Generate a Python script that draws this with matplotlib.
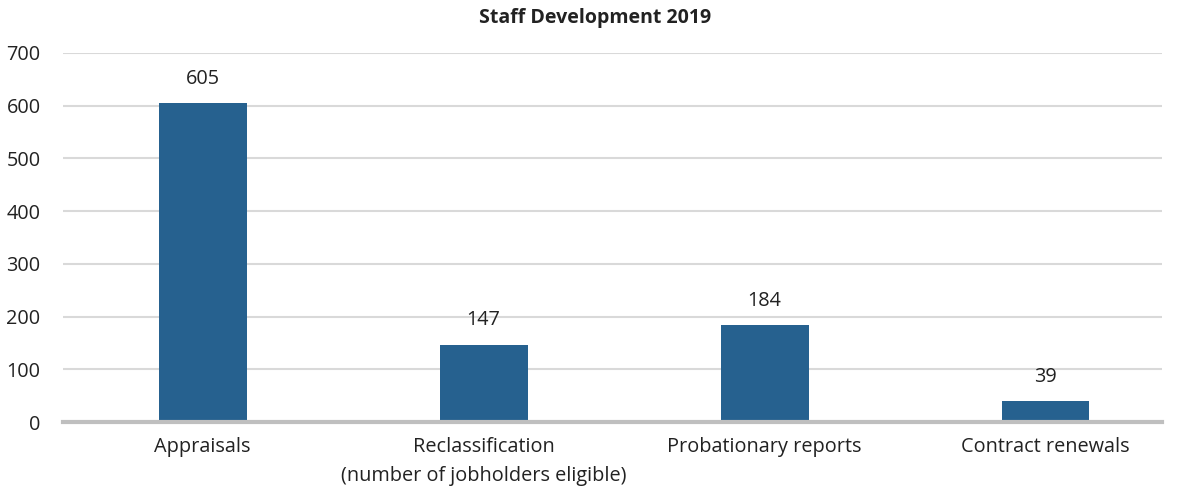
import matplotlib.pyplot as plt

categories = ['Appraisals', 'Reclassification\n(number of jobholders eligible)',
              'Probationary reports', 'Contract renewals']
values = [605, 147, 184, 39]
yticks = [0, 100, 200, 300, 400, 500, 600, 700]

plt.rcParams['font.family'] = ['Open Sans', 'DejaVu Sans']

fig = plt.figure(figsize=(11.84, 4.93), dpi=100)
ax = fig.add_axes([0.053, 0.144, 0.928, 0.7485])

x = range(len(categories))
bars = ax.bar(x, values, width=0.313, color='#26618F', zorder=3)
for b, v in zip(bars, values):
    ax.text(b.get_x() + b.get_width() / 2, v + 27, str(v), ha='center', va='bottom',
            fontsize=14.3, color='#222222')

ax.set_xlim(-0.498, 3.413)
ax.set_ylim(0, 700)
ax.set_yticks(yticks)
ax.set_xticks(list(x))
ax.set_xticklabels(categories, fontsize=14.3, color='#222222', linespacing=1.55)
ax.tick_params(axis='y', labelsize=14.3, colors='#222222', length=0, pad=16)
ax.tick_params(axis='x', length=0, pad=11)
ax.yaxis.grid(True, color='#D9D9D9', linewidth=1.5, zorder=0)

for s in ['top', 'right', 'left']:
    ax.spines[s].set_visible(False)
ax.spines['bottom'].set_color('#BFBFBF')
ax.spines['bottom'].set_linewidth(3)
ax.spines['bottom'].set_zorder(4)

fig.text(0.503, 0.963, 'Staff Development 2019', ha='center', va='center',
         fontsize=14, fontweight='bold', color='#222222')

fig.savefig('out.png', dpi=100)
